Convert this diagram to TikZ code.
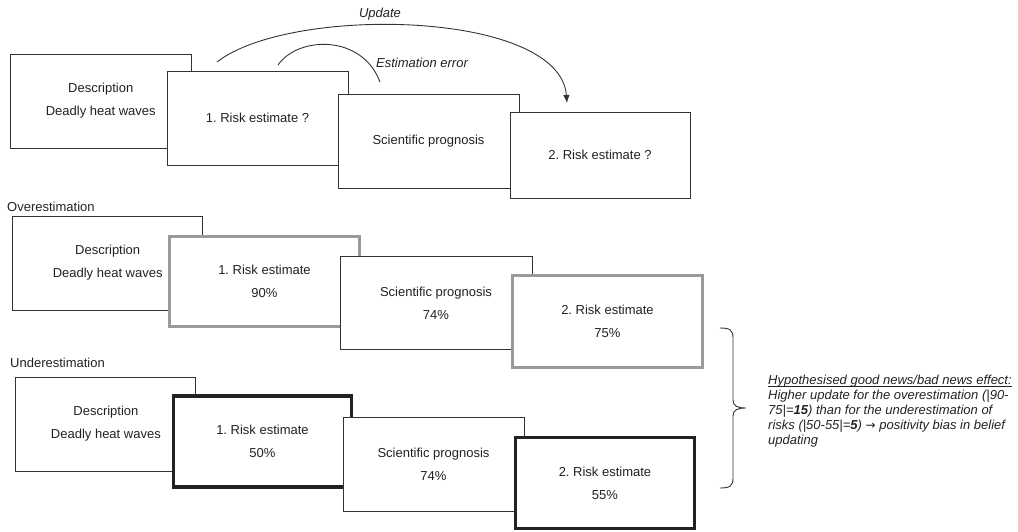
\documentclass[tikz,border=0pt]{standalone}
\usepackage{fontspec}
\setmainfont{Liberation Sans}
\newfontfamily\arrowfont{DejaVu Sans}
\usetikzlibrary{arrows.meta}
\definecolor{ink}{HTML}{222222}
\definecolor{frame}{HTML}{333333}
\definecolor{greyframe}{HTML}{9A9A9A}
\newcommand\myul[1]{\setbox0\hbox{#1}\rlap{\rule[-2pt]{\wd0}{0.7pt}}\box0}
\frenchspacing
\begin{document}
\begin{tikzpicture}[x=1pt,y=-1pt,
  every node/.style={font=\fontsize{13}{23}\selectfont, text=ink},
  wh/.style 2 args={minimum width=#1pt, minimum height=#2pt},
  thinbox/.style={draw=frame, line width=0.9pt, fill=white, inner sep=0pt, outer sep=0pt, align=center},
  greybox/.style={thinbox, draw=greyframe, line width=3pt},
  darkbox/.style={thinbox, draw=ink, line width=3.3pt},
  lbl/.style={font=\itshape\fontsize{13}{15}\selectfont},
  rowlbl/.style={anchor=west, inner sep=0pt},
  conn/.style={draw=frame, line width=0.9pt}]
\useasboundingbox (0,0) rectangle (1018,532);

% ---- row 1
\node[thinbox, wh={180.5}{94}] (d1) at (100.75,101) {Description\\Deadly heat waves};
\node[thinbox, wh={181}{94}] (r1) at (257.5,118) {1. Risk estimate ?};
\node[thinbox, wh={181}{94}] (s1) at (428.5,141) {Scientific prognosis};
\node[thinbox, wh={180}{86}] (q1) at (600,155) {2. Risk estimate ?};

\coordinate (u0) at (217,62);
\coordinate (u1) at (567,103);
\draw[conn, -{Latex[length=8pt,width=6.5pt]}] (u0) .. controls (290,5) and (560,10) .. (u1);
\coordinate (e0) at (278,65);
\coordinate (e1) at (380,82);
\draw[conn] (e0) .. controls (298,36) and (362,34) .. (e1);
\node[lbl] (upd) at (380,14) {Update};
\node[lbl] (err) at (422,63) {Estimation error};

% ---- row 2
\node[rowlbl] (over) at (7,207) {Overestimation};
\node[thinbox, wh={190}{94}] (d2) at (107.7,263) {Description\\Deadly heat waves};
\node[greybox, wh={190}{90}] (r2) at (264.5,281.5) {1. Risk estimate\\90\%};
\node[thinbox, wh={192}{93}] (s2) at (436,303.3) {Scientific prognosis\\74\%};
\node[greybox, wh={190}{92}] (q2) at (607.5,321.5) {2. Risk estimate\\75\%};

% ---- row 3
\node[rowlbl] (under) at (10,363) {Underestimation};
\node[thinbox, wh={180}{94}] (d3) at (105.9,424) {Description\\Deadly heat waves};
\node[darkbox, wh={178}{91}] (r3) at (262.5,441.5) {1. Risk estimate\\50\%};
\node[thinbox, wh={181}{94}] (s3) at (433.5,464) {Scientific prognosis\\74\%};
\node[darkbox, wh={179}{91}] (q3) at (605,483) {2. Risk estimate\\55\%};

% ---- brace
\draw[conn] (720,328) .. controls (730,328) and (733,330) .. (733,338)
  -- (733,400) .. controls (733,406) and (737,408) .. (746,408)
  .. controls (737,408) and (733,410) .. (733,416)
  -- (733,478) .. controls (733,486) and (730,488) .. (720,488);

\node[anchor=north west, inner sep=0pt, align=left, font=\itshape\fontsize{13}{15}\selectfont] (hyp) at (768,375)
{\myul{Hypothesised good news/bad news effect:}\\
Higher update for the overestimation (|90-\\
75|=\textbf{15}) than for the underestimation of\\
risks (|50-55|=\textbf{5}) {\arrowfont\fontsize{12}{15}\selectfont →} positivity bias in belief\\
updating};
\end{tikzpicture}
\end{document}
